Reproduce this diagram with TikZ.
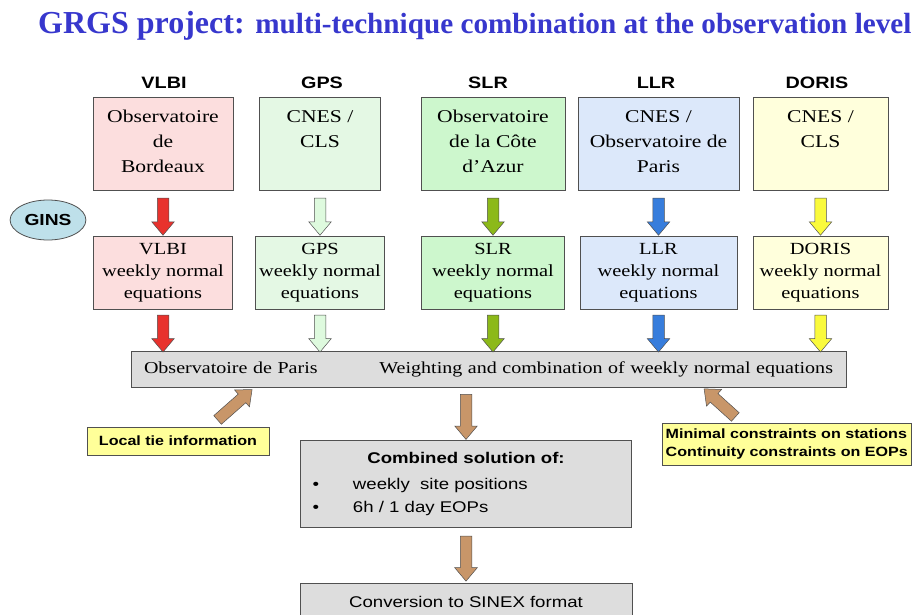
\documentclass[tikz,border=0pt]{standalone}
\usepackage{fontspec}
\setmainfont{Liberation Serif}[FakeStretch=1.2]
\setsansfont{Liberation Sans}[FakeStretch=1.2]
\newfontfamily\titlefont{Liberation Serif}
\usetikzlibrary{shapes,arrows,positioning}

\definecolor{titleblue}{RGB}{55,55,205}
\definecolor{boxline}{RGB}{80,80,80}
\definecolor{vlbifill}{RGB}{252,222,222}
\definecolor{gpsfill}{RGB}{228,248,228}
\definecolor{slrfill}{RGB}{205,247,205}
\definecolor{llrfill}{RGB}{220,232,250}
\definecolor{dorisfill}{RGB}{255,255,220}
\definecolor{greyfill}{RGB}{221,221,221}
\definecolor{notefill}{RGB}{255,255,153}
\definecolor{ginsfill}{RGB}{190,224,234}
\definecolor{vlbiarrow}{RGB}{232,50,45}
\definecolor{gpsarrow}{RGB}{222,250,222}
\definecolor{slrarrow}{RGB}{140,185,25}
\definecolor{llrarrow}{RGB}{55,125,220}
\definecolor{dorisarrow}{RGB}{250,250,60}
\definecolor{brownarrow}{RGB}{200,150,105}

\begin{document}
\begin{tikzpicture}[x=1pt,y=-1pt,node distance=45pt]
    \tikzstyle{head}=[font=\sffamily\bfseries\fontsize{16.5}{18}\selectfont]
    \tikzstyle{srcbox}=[rectangle, draw=boxline, line width=0.8pt, anchor=north, minimum height=93pt]
    \tikzstyle{srctext}=[anchor=north, align=center, inner sep=0pt, yshift=-13pt, font=\fontsize{18}{25}\selectfont]
    \tikzstyle{nebox}=[rectangle, draw=boxline, line width=0.8pt, minimum height=73pt, align=center, font=\fontsize{17}{22}\selectfont]
    \tikzstyle{greybox}=[rectangle, draw=boxline, line width=0.8pt, fill=greyfill]
    \tikzstyle{note}=[rectangle, draw=boxline, line width=0.8pt, fill=notefill, font=\sffamily\bfseries\fontsize{13.4}{18}\selectfont]
    \tikzstyle{fatarrow}=[single arrow, draw=boxline, line width=0.5pt, inner sep=5.5pt, single arrow head extend=5.5pt, single arrow tip angle=80, minimum height=37pt, sloped, allow upside down]

    \useasboundingbox (0,0) rectangle (915,615);

    \node[anchor=base west, inner sep=0pt, text=titleblue, font=\titlefont\bfseries] (title) at (38,34)
      {\fontsize{32}{32}\selectfont GRGS project: \fontsize{29.2}{29}\selectfont multi-technique combination at the observation level};

    % technique headers
    \node[head] (hvlbi)  at (164,83) {VLBI};
    \node[head] (hgps)   at (322,83) {GPS};
    \node[head] (hslr)   at (488,83) {SLR};
    \node[head] (hllr)   at (656,83) {LLR};
    \node[head] (hdoris) at (817,83) {DORIS};

    % analysis centres
    \node[srcbox, minimum width=140pt, fill=vlbifill, label={[srctext]north:Observatoire\\de\\Bordeaux}] (vlbi) at (163,97) {};
    \node[srcbox, minimum width=121pt, fill=gpsfill, label={[srctext]north:CNES /\\CLS}] (gps) at (320,97) {};
    \node[srcbox, minimum width=144pt, fill=slrfill, label={[srctext]north:Observatoire\\de la Côte\\d’Azur}] (slr) at (493,97) {};
    \node[srcbox, minimum width=161pt, fill=llrfill, label={[srctext]north:CNES /\\Observatoire de\\Paris}] (llr) at (658.5,97) {};
    \node[srcbox, minimum width=135pt, fill=dorisfill, label={[srctext]north:CNES /\\CLS}] (doris) at (820.5,97) {};

    \node[ellipse, draw=boxline, fill=ginsfill, line width=0.8pt, minimum width=74pt, minimum height=40pt,
      font=\sffamily\bfseries\fontsize{16}{18}\selectfont] (gins) at (48,220) {GINS};

    % weekly normal equations
    \node[nebox, minimum width=139pt, fill=vlbifill, below=45pt of vlbi, text depth=4pt] (vlbine) {VLBI\\weekly normal\\equations};
    \node[nebox, minimum width=124pt, fill=gpsfill, below=45pt of gps, text depth=4pt] (gpsne) {GPS\\weekly normal\\equations};
    \node[nebox, minimum width=143pt, fill=slrfill, below=45pt of slr, text depth=4pt] (slrne) {SLR\\weekly normal\\equations};
    \node[nebox, minimum width=157pt, fill=llrfill, below=45pt of llr, text depth=4pt] (llrne) {LLR\\weekly normal\\equations};
    \node[nebox, minimum width=135pt, fill=dorisfill, below=45pt of doris, text depth=4pt] (dorisne) {DORIS\\weekly normal\\equations};

    \node[greybox, minimum width=715pt, minimum height=36pt, text width=689pt, align=left,
      font=\fontsize{16.7}{20}\selectfont] (comb) at (488.5,369)
      {Observatoire de Paris\hfill Weighting and combination of weekly normal equations};

    \node[note, minimum width=182pt, minimum height=28pt] (local) at (178,441) {Local tie information};
    \node[note, anchor=north west, align=left, minimum height=42pt] (minimal) at (662,423)
      {Minimal constraints on stations\\Continuity constraints on EOPs};

    \node[greybox, minimum width=331pt, minimum height=87pt, text width=307pt, align=left,
      font=\sffamily\fontsize{15.5}{23}\selectfont] (sol) at (466,483.5)
      {\makebox[307pt]{\textbf{Combined solution of:}}\\[3pt]
       \textbullet\hspace{34pt}weekly\ \ site positions\\
       \textbullet\hspace{34pt}6h / 1 day EOPs};
    \node[greybox, anchor=north, minimum width=332pt, minimum height=38pt,
      font=\sffamily\fontsize{15.5}{18}\selectfont] (sinex) at (466,583) {Conversion to SINEX format};

    % block arrows
    \path (vlbi.south) -- (vlbine.north) node[fatarrow, fill=vlbiarrow, midway] {};
    \path (gps.south) -- (gpsne.north) node[fatarrow, fill=gpsarrow, midway] {};
    \path (slr.south) -- (slrne.north) node[fatarrow, fill=slrarrow, midway] {};
    \path (llr.south) -- (llrne.north) node[fatarrow, fill=llrarrow, midway] {};
    \path (doris.south) -- (dorisne.north) node[fatarrow, fill=dorisarrow, midway] {};

    \path (vlbine.south) -- (vlbine.south |- comb.north) node[fatarrow, fill=vlbiarrow, midway] {};
    \path (gpsne.south) -- (gpsne.south |- comb.north) node[fatarrow, fill=gpsarrow, midway] {};
    \path (slrne.south) -- (slrne.south |- comb.north) node[fatarrow, fill=slrarrow, midway] {};
    \path (llrne.south) -- (llrne.south |- comb.north) node[fatarrow, fill=llrarrow, midway] {};
    \path (dorisne.south) -- (dorisne.south |- comb.north) node[fatarrow, fill=dorisarrow, midway] {};

    \path ([xshift=32pt]local.north) -- ([xshift=-234pt]comb.south) node[fatarrow, fill=brownarrow, minimum height=46pt, midway] {};
    \path ([xshift=80pt]minimal.north west) -- ([xshift=214pt]comb.south) node[fatarrow, fill=brownarrow, minimum height=42pt, midway] {};
    \path ([xshift=-22.5pt]comb.south) -- (sol.north) node[fatarrow, fill=brownarrow, minimum height=45pt, midway] {};
    \path (sol.south) -- (sinex.north) node[fatarrow, fill=brownarrow, minimum height=45pt, midway] {};

\end{tikzpicture}
\end{document}
